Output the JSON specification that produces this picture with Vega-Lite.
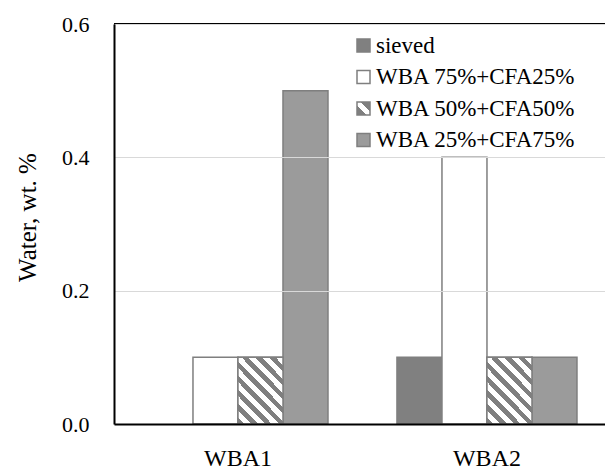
{
  "$schema": "https://vega.github.io/schema/vega-lite/v6.json",
  "autosize": {"type": "none"},
  "padding": {"left": 114, "top": 24, "right": 0, "bottom": 45},
  "width": 491,
  "height": 400,
  "config": {
    "view": {"stroke": null},
    "font": "Liberation Serif",
    "axis": {"labelFont": "Liberation Serif", "titleFont": "Liberation Serif", "labelColor": "#000", "titleColor": "#000"},
    "legend": {"labelFont": "Liberation Serif"}
  },
  "datasets": {
    "bars": [
      {"group": "WBA1", "series": "sieved", "value": 0},
      {"group": "WBA1", "series": "WBA 75%+CFA25%", "value": 0.1},
      {"group": "WBA1", "series": "WBA 50%+CFA50%", "value": 0.1},
      {"group": "WBA1", "series": "WBA 25%+CFA75%", "value": 0.5},
      {"group": "WBA2", "series": "sieved", "value": 0.1},
      {"group": "WBA2", "series": "WBA 75%+CFA25%", "value": 0.4},
      {"group": "WBA2", "series": "WBA 50%+CFA50%", "value": 0.1},
      {"group": "WBA2", "series": "WBA 25%+CFA75%", "value": 0.1}
    ]
  },
  "data": {"name": "bars"},
  "layer": [
    {
      "transform": [{"filter": "datum.value > 0"}],
      "mark": {"type": "bar", "stroke": "#7f7f7f", "strokeWidth": 1.5},
      "encoding": {
        "x": {
          "field": "group", "type": "nominal", "sort": ["WBA1", "WBA2"],
          "scale": {"domain": ["WBA1", "WBA2"], "paddingInner": 0.277, "paddingOuter": 0.1245, "align": 0.548},
          "axis": {
            "title": null, "labelAngle": 0, "ticks": false, "zindex": 1,
            "domainColor": "#000", "domainWidth": 2,
            "labelFontSize": 24, "labelBaseline": "alphabetic", "labelPadding": 41
          }
        },
        "xOffset": {
          "field": "series", "type": "nominal",
          "sort": ["sieved", "WBA 75%+CFA25%", "WBA 50%+CFA50%", "WBA 25%+CFA75%"],
          "scale": {"domain": ["sieved", "WBA 75%+CFA25%", "WBA 50%+CFA50%", "WBA 25%+CFA75%"], "paddingInner": 0, "paddingOuter": 0}
        },
        "y": {
          "field": "value", "type": "quantitative",
          "scale": {"domain": [0, 0.6], "nice": false},
          "axis": {
            "title": "Water, wt. %", "values": [0, 0.2, 0.4, 0.6], "format": ".1f",
            "ticks": false, "domainColor": "#000", "domainWidth": 2, "zindex": 1,
            "gridColor": "#d9d9d9", "gridWidth": 1,
            "labelFontSize": 22, "labelPadding": 25,
            "titleFontSize": 25, "titleFontWeight": "normal",
            "titleX": -87, "titleY": 193, "titleAngle": 270,
            "titleAlign": "center", "titleBaseline": "middle"
          }
        },
        "fill": {
          "field": "series", "type": "nominal",
          "sort": ["sieved", "WBA 75%+CFA25%", "WBA 50%+CFA50%", "WBA 25%+CFA75%"],
          "scale": {
            "domain": ["sieved", "WBA 75%+CFA25%", "WBA 50%+CFA50%", "WBA 25%+CFA75%"],
            "range": [
              "#808080",
              "#ffffff",
              {"expr": "{gradient: 'linear', x1: 0, y1: 1, x2: 1, y2: 0, stops: [{offset: 0, color: '#7f7f7f'}, {offset: 0.36, color: '#7f7f7f'}, {offset: 0.36, color: '#ffffff'}, {offset: 0.64, color: '#ffffff'}, {offset: 0.64, color: '#7f7f7f'}, {offset: 1, color: '#7f7f7f'}]}"},
              "#9b9b9b"
            ]
          },
          "legend": {
            "title": null, "orient": "none", "legendX": 238, "legendY": 10,
            "padding": 0, "symbolType": "square", "symbolSize": 169,
            "labelFontSize": 23, "labelColor": "#000", "labelOffset": 1,
            "rowPadding": 7.5, "labelLimit": 300,
            "encode": {
              "symbols": {
                "stroke": {"value": "#7f7f7f"},
                "strokeWidth": {"value": 1}
              }
            }
          }
        }
      }
    },
    {
      "transform": [{"filter": "datum.series === 'WBA 50%+CFA50%'"}],
      "mark": {
        "type": "bar", "stroke": "#7f7f7f", "strokeWidth": 1.5,
        "fill": {
          "gradient": "linear", "x1": 0, "y1": 1, "x2": 0.783, "y2": -0.148,
          "stops": [
            {"offset": 0, "color": "#7f7f7f"}, {"offset": 0.05625, "color": "#7f7f7f"}, {"offset": 0.05625, "color": "#ffffff"}, {"offset": 0.125, "color": "#ffffff"},
            {"offset": 0.125, "color": "#7f7f7f"}, {"offset": 0.18125, "color": "#7f7f7f"}, {"offset": 0.18125, "color": "#ffffff"}, {"offset": 0.25, "color": "#ffffff"},
            {"offset": 0.25, "color": "#7f7f7f"}, {"offset": 0.30625, "color": "#7f7f7f"}, {"offset": 0.30625, "color": "#ffffff"}, {"offset": 0.375, "color": "#ffffff"},
            {"offset": 0.375, "color": "#7f7f7f"}, {"offset": 0.43125, "color": "#7f7f7f"}, {"offset": 0.43125, "color": "#ffffff"}, {"offset": 0.5, "color": "#ffffff"},
            {"offset": 0.5, "color": "#7f7f7f"}, {"offset": 0.55625, "color": "#7f7f7f"}, {"offset": 0.55625, "color": "#ffffff"}, {"offset": 0.625, "color": "#ffffff"},
            {"offset": 0.625, "color": "#7f7f7f"}, {"offset": 0.68125, "color": "#7f7f7f"}, {"offset": 0.68125, "color": "#ffffff"}, {"offset": 0.75, "color": "#ffffff"},
            {"offset": 0.75, "color": "#7f7f7f"}, {"offset": 0.80625, "color": "#7f7f7f"}, {"offset": 0.80625, "color": "#ffffff"}, {"offset": 0.875, "color": "#ffffff"},
            {"offset": 0.875, "color": "#7f7f7f"}, {"offset": 0.93125, "color": "#7f7f7f"}, {"offset": 0.93125, "color": "#ffffff"}, {"offset": 1, "color": "#ffffff"}
          ]
        }
      },
      "encoding": {
        "x": {"field": "group", "type": "nominal", "sort": ["WBA1", "WBA2"]},
        "xOffset": {"field": "series", "type": "nominal", "sort": ["sieved", "WBA 75%+CFA25%", "WBA 50%+CFA50%", "WBA 25%+CFA75%"]},
        "y": {"field": "value", "type": "quantitative"}
      }
    },
    {
      "mark": {"type": "rule", "color": "#000", "strokeWidth": 2},
      "encoding": {"y": {"datum": 0.6}}
    }
  ]
}
